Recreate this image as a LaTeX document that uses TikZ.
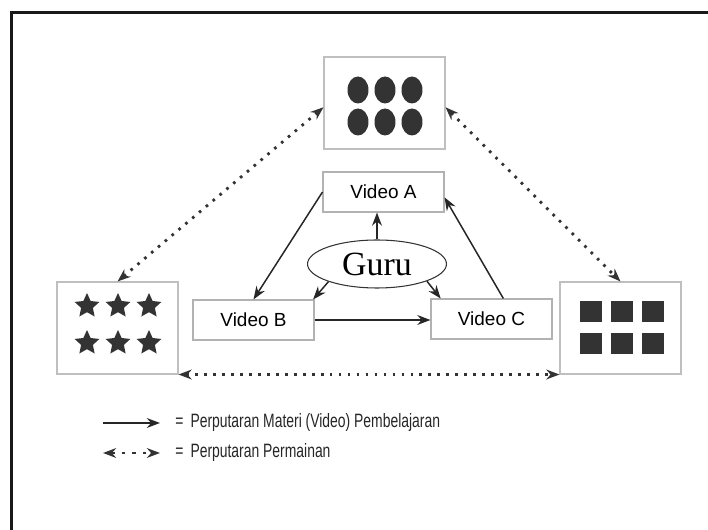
\documentclass[tikz,border=0pt]{standalone}
\usepackage{fontspec}
\setmainfont{Liberation Sans}
\newfontfamily\narrowfont[FakeStretch=0.72]{Liberation Sans}
\newfontfamily\gurufont{Liberation Serif}
\usetikzlibrary{arrows.meta,shapes.geometric}

\begin{document}
\begin{tikzpicture}[x=0.02cm, y=-0.02cm,
    vid/.style={draw=black!30, line width=0.6pt, minimum width=2.42cm, minimum height=0.8cm, inner sep=0pt, font=\fontsize{10.8}{13}\selectfont},
    gamebox/.style={draw=black!25, line width=0.6pt, minimum width=2.42cm, minimum height=1.84cm, inner sep=0pt},
    blob/.style={ellipse, fill=black!80, minimum width=0.42cm, minimum height=0.54cm, inner sep=0pt},
    bintang/.style={star, star points=5, star point ratio=2.1, fill=black!80, minimum size=0.52cm, inner sep=0pt},
    kotak/.style={fill=black!80, minimum width=0.46cm, minimum height=0.42cm, inner sep=0pt},
    putar/.style={->, >={Stealth[length=7.5pt,width=5.6pt]}, line width=0.85pt, black!85},
    mainputar/.style={<->, >={Stealth[length=7.5pt,width=5.6pt]}, line width=1.6pt, black!80, dash pattern=on 1.5pt off 3.6pt},
    ket/.style={anchor=west, inner sep=0pt, font=\narrowfont\fontsize{11}{13}\selectfont, black!85}]
    \useasboundingbox (0,0) rectangle (708,530);
    \clip (0,0) rectangle (708,530);
    \draw[line width=1.6pt, black!90] (11.5,12.8) rectangle (740,560);

    % kotak permainan
    \node[gamebox] (circles) at (384.5,103) {};
    \node[gamebox] (stars) at (117.5,328) {};
    \node[gamebox] (squares) at (620.5,328) {};
    \foreach \x in {358,385,412}
        \foreach \y in {90,122}
            \node[blob] (c-\x-\y) at (\x,\y) {};
    \foreach \x in {87,118,149}
        \foreach \y in {306,343}
            \node[bintang] (s-\x-\y) at (\x,\y) {};
    \foreach \x in {591,622,653}
        \foreach \y in {311.5,343.5}
            \node[kotak] (k-\x-\y) at (\x,\y) {};

    % video dan guru
    \node[vid] (vidA) at (383.5,192) {Video A};
    \node[vid] (vidB) at (253.5,320) {Video B};
    \node[vid] (vidC) at (491.5,319) {Video C};
    \node[ellipse, draw=black!80, line width=0.6pt, minimum width=2.78cm, minimum height=0.96cm, inner sep=0pt, font=\gurufont\fontsize{19.3}{22}\selectfont] (guru) at (377,264) {Guru};

    \draw[putar] (guru.north) -- (guru.north |- vidA.south);
    \draw[putar] (guru.200) -- (vidB.19);
    \draw[putar] (guru.-19) -- (vidC.158);
    \draw[putar] (vidA.west) -- (vidB.north);
    \draw[putar] (vidB.east) -- (vidB.east -| vidC.west);
    \draw[putar] (vidC.60) -- (vidA.-5);

    \draw[mainputar] (circles.184) -- (stars.north);
    \draw[mainputar] (circles.-4) -- (squares.north);
    \draw[mainputar] (stars.south east) -- (squares.south west);

    % keterangan
    \coordinate (l1a) at (103,423);
    \coordinate (l1b) at (160,423);
    \coordinate (l2a) at (103,453);
    \coordinate (l2b) at (160,453);
    \draw[putar] (l1a) -- (l1b);
    \draw[mainputar, line width=0.9pt, dash pattern=on 2pt off 4pt] (l2a) -- (l2b);
    \node[ket] (ket1) at (175,423) {=\hspace{4pt}Perputaran Materi (Video) Pembelajaran};
    \node[ket] (ket2) at (175,453) {=\hspace{4pt}Perputaran Permainan};
\end{tikzpicture}
\end{document}
